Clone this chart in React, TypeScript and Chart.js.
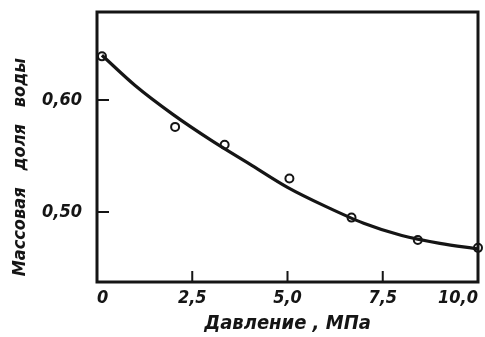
import React, { useEffect, useRef } from "react";
import { Chart, registerables } from "chart.js";

Chart.register(...registerables);

// Measured points: pressure (MPa) vs mass fraction of water
const pointX = [0.13, 2.05, 3.35, 5.05, 6.68, 8.42, 10.0];
const pointY = [0.639, 0.576, 0.56, 0.53, 0.495, 0.475, 0.468];

// Smooth fitted curve
const curveX = [0.13, 1, 2, 3, 4, 5, 6, 7, 8, 9, 10];
const curveY = [0.64, 0.613, 0.587, 0.564, 0.543, 0.522, 0.505, 0.49, 0.479, 0.472, 0.467];

const xTicks = [0, 2.5, 5, 7.5, 10];
const xTickLabels = ["0", "2,5", "5,0", "7,5", "10,0"];
const yTicks = [0.5, 0.6];
const yTickLabels = ["0,50", "0,60"];

const xTitle = "Давление , МПа";
const yTitle = " Массовая   доля   воды";

const INK = "#151515";
const FONT_FAMILY = "'DejaVu Sans Condensed', 'DejaVu Sans', sans-serif";

const framePlugin = {
  id: "frameAndInwardTicks",
  afterDatasetsDraw(chart: any) {
    const { ctx, chartArea } = chart;
    const { left, right, top, bottom } = chartArea;
    const xs = chart.scales.x;
    const ys = chart.scales.y;
    ctx.save();
    ctx.strokeStyle = INK;
    ctx.lineWidth = 3;
    ctx.lineJoin = "miter";
    ctx.strokeRect(left, top, right - left, bottom - top);
    ctx.lineWidth = 2;
    ctx.beginPath();
    for (const v of xTicks) {
      if (v <= xs.min || v >= xs.max) continue;
      const px = xs.getPixelForValue(v);
      ctx.moveTo(px, bottom);
      ctx.lineTo(px, bottom - 11);
    }
    for (const v of yTicks) {
      const py = ys.getPixelForValue(v);
      ctx.moveTo(left, py);
      ctx.lineTo(left + 12, py);
    }
    ctx.stroke();
    ctx.restore();
  },
};

export default function App() {
  const canvasRef = useRef<HTMLCanvasElement | null>(null);

  useEffect(() => {
    const canvas = canvasRef.current;
    if (!canvas) return;
    const chart = new Chart(canvas, {
      type: "scatter",
      data: {
        datasets: [
          {
            label: "curve",
            data: curveX.map((x, i) => ({ x, y: curveY[i] })),
            showLine: true,
            borderColor: INK,
            borderWidth: 3.2,
            pointRadius: 0,
            cubicInterpolationMode: "monotone",
            fill: false,
          },
          {
            label: "points",
            data: pointX.map((x, i) => ({ x, y: pointY[i] })),
            showLine: false,
            pointStyle: "circle",
            pointRadius: 4,
            pointBorderWidth: 2,
            pointBorderColor: INK,
            pointBackgroundColor: "#ffffff",
            clip: false,
          } as any,
        ],
      },
      options: {
        responsive: false,
        animation: false,
        events: [],
        layout: {
          autoPadding: false,
          padding: { top: 12, right: 7, left: 0, bottom: 0 },
        } as any,
        plugins: {
          legend: { display: false },
          tooltip: { enabled: false },
        },
        scales: {
          x: {
            type: "linear",
            min: 0,
            max: 10,
            grid: { display: false, drawTicks: false },
            border: { display: false },
            afterBuildTicks: (scale: any) => {
              scale.ticks = xTicks.map((v) => ({ value: v }));
            },
            afterFit: (scale: any) => {
              scale.height = 55;
              scale.paddingLeft = 0;
              scale.paddingRight = 0;
            },
            ticks: {
              autoSkip: false,
              maxRotation: 0,
              align: "inner",
              padding: 6,
              color: INK,
              font: { family: FONT_FAMILY, size: 18, style: "italic", weight: "bold" },
              callback: (_v: any, i: number) => xTickLabels[i],
            },
            title: {
              display: true,
              text: xTitle,
              color: INK,
              padding: { top: 0, bottom: 1 },
              font: { family: FONT_FAMILY, size: 20, style: "italic", weight: "bold" },
            },
          },
          y: {
            type: "linear",
            min: 0.4375,
            max: 0.6786,
            grid: { display: false, drawTicks: false },
            border: { display: false },
            afterBuildTicks: (scale: any) => {
              scale.ticks = yTicks.map((v) => ({ value: v }));
            },
            afterFit: (scale: any) => {
              scale.width = 97;
              scale.paddingTop = 0;
              scale.paddingBottom = 0;
            },
            ticks: {
              autoSkip: false,
              padding: 15,
              color: INK,
              font: { family: FONT_FAMILY, size: 18, style: "italic", weight: "bold" },
              callback: (_v: any, i: number) => yTickLabels[i],
            },
            title: {
              display: true,
              text: yTitle,
              align: "start",
              color: INK,
              padding: { top: 10, bottom: 0 },
              font: { family: FONT_FAMILY, size: 18, style: "italic", weight: "bold" },
            },
          },
        },
      } as any,
      plugins: [framePlugin],
    });
    return () => chart.destroy();
  }, []);

  return (
    <div style={{ position: "fixed", left: 0, top: 0, width: 485, height: 337, background: "#fff" }}>
      <canvas ref={canvasRef} width={485} height={337} style={{ display: "block" }} />
    </div>
  );
}
